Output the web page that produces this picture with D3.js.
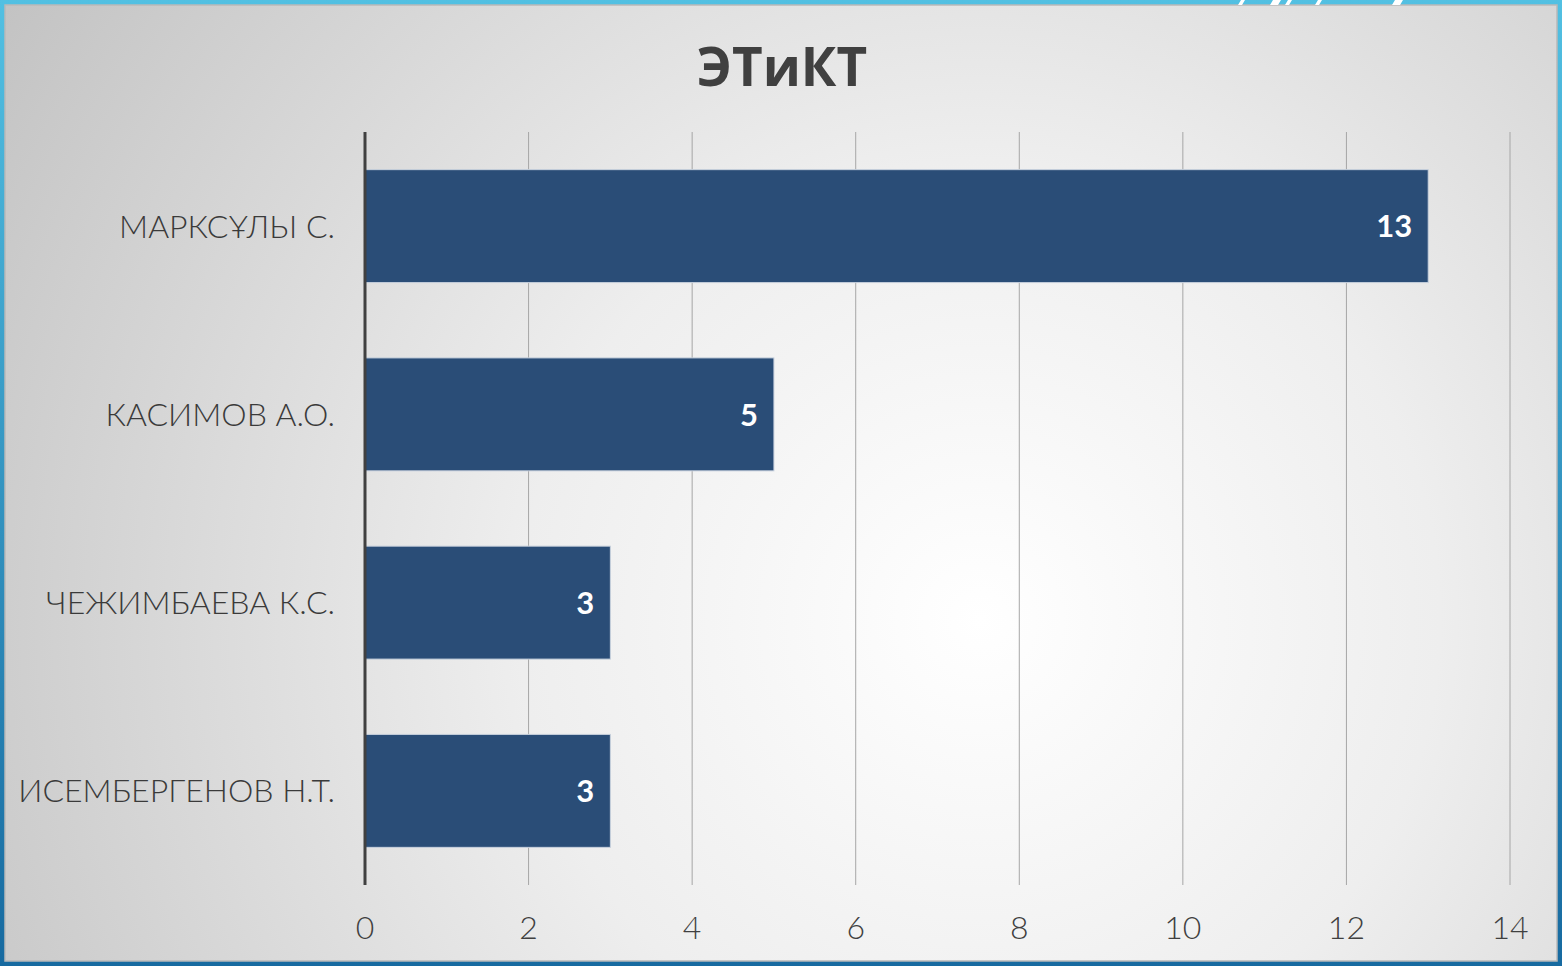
<!DOCTYPE html>
<html>
<head>
<meta charset="utf-8">
<script src="https://cdn.jsdelivr.net/npm/d3@7"></script>
<style>
  html, body { margin: 0; padding: 0; background: #fff; }
  svg { display: block; }
</style>
</head>
<body>
<svg id="chart" width="1562" height="966"></svg>
<script>
const names = ['МАРКСҰЛЫ С.', 'КАСИМОВ А.О.', 'ЧЕЖИМБАЕВА К.С.', 'ИСЕМБЕРГЕНОВ Н.Т.'];
const counts = [13, 5, 3, 3];
const xTicks = [0, 2, 4, 6, 8, 10, 12, 14];
const title = 'ЭТиКТ';

const W = 1562, H = 966;
const svg = d3.select('#chart');
const defs = svg.append('defs');

// frame gradient (light blue top -> darker blue bottom)
const fg = defs.append('linearGradient').attr('id', 'frame')
    .attr('x1', 0).attr('y1', 0).attr('x2', 0).attr('y2', 1);
fg.append('stop').attr('offset', '0%').attr('stop-color', '#52c0e2');
fg.append('stop').attr('offset', '100%').attr('stop-color', '#176aa0');

const bg = defs.append('radialGradient').attr('id', 'bg')
    .attr('gradientUnits', 'userSpaceOnUse')
    .attr('cx', 980).attr('cy', 620).attr('r', 1150);
bg.append('stop').attr('offset', '0%').attr('stop-color', '#ffffff');
bg.append('stop').attr('offset', '40%').attr('stop-color', '#eeeeee');
bg.append('stop').attr('offset', '100%').attr('stop-color', '#c3c3c3');

svg.append('rect').attr('width', W).attr('height', H).attr('fill', 'url(#frame)');
svg.append('rect').attr('x', 5).attr('y', 5).attr('width', W - 10).attr('height', H - 10)
    .attr('fill', 'url(#bg)').attr('stroke', '#b9b9b9').attr('stroke-width', 1.5);

// little white slashes on the top band
[[1238, 4], [1270, 8], [1285, 4], [1315, 4], [1392, 8]].forEach(([x, w]) => {
    svg.append('path')
        .attr('d', `M${x},5 L${x + 3},0 L${x + 3 + w},0 L${x + w},5 Z`)
        .attr('fill', '#ffffff');
});

const margin = { top: 132, right: 52, bottom: 81, left: 365 };
const innerW = 1510 - margin.left;
const innerH = 885 - margin.top;
const g = svg.append('g').attr('transform', `translate(${margin.left},${margin.top})`);

const x = d3.scaleLinear().domain([0, 14]).range([0, innerW]);
const y = d3.scaleBand().domain(names).range([0, innerH]).paddingInner(0.4).paddingOuter(0.2);

// gridlines
g.append('g').selectAll('line').data(xTicks.slice(1)).join('line')
    .attr('x1', d => x(d)).attr('x2', d => x(d))
    .attr('y1', 0).attr('y2', innerH)
    .attr('stroke', '#a6a6a6').attr('stroke-width', 1);

// tick labels
g.append('g').selectAll('text').data(xTicks).join('text')
    .attr('x', d => x(d)).attr('y', innerH + 54)
    .attr('text-anchor', 'middle')
    .attr('font-family', 'Lato, "Open Sans", sans-serif').attr('font-weight', 300)
    .attr('font-size', 32).attr('fill', '#404040')
    .text(d => d);

// bars
const data = names.map((n, i) => ({ name: n, value: counts[i] }));
g.append('g').selectAll('rect').data(data).join('rect')
    .attr('x', 0).attr('y', d => y(d.name))
    .attr('width', d => x(d.value)).attr('height', y.bandwidth())
    .attr('fill', '#2a4d77').attr('stroke', '#c9d2de').attr('stroke-width', 1);

g.append('g').selectAll('text').data(data).join('text')
    .attr('x', d => x(d.value) - 16).attr('y', d => y(d.name) + y.bandwidth() / 2)
    .attr('dy', '0.36em').attr('text-anchor', 'end')
    .attr('font-family', 'Lato, "Open Sans", sans-serif').attr('font-weight', 'bold')
    .attr('font-size', 31).attr('fill', '#ffffff')
    .text(d => d.value);

// category labels
g.append('g').selectAll('text').data(names).join('text')
    .attr('x', -30).attr('y', d => y(d) + y.bandwidth() / 2)
    .attr('dy', '0.36em').attr('text-anchor', 'end')
    .attr('font-family', 'Lato, "Open Sans", sans-serif').attr('font-weight', 300)
    .attr('font-size', 32).attr('fill', '#3a3a3a')
    .text(d => d);

// axis line
g.append('line').attr('x1', 0).attr('x2', 0).attr('y1', 0).attr('y2', innerH)
    .attr('stroke', '#404040').attr('stroke-width', 3);

svg.append('text').attr('x', 782).attr('y', 86)
    .attr('text-anchor', 'middle')
    .attr('font-family', '"Open Sans", Lato, sans-serif').attr('font-weight', 'bold')
    .attr('font-size', 53).attr('fill', '#404040')
    .text(title);
</script>
</body>
</html>
